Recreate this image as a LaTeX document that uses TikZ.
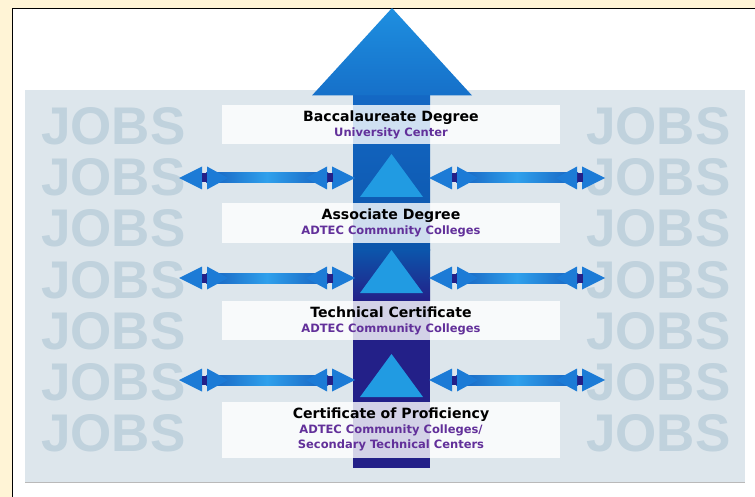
\documentclass[tikz,border=0pt]{standalone}
\usepackage{fontspec}
\usepackage{tikz}
\usetikzlibrary{positioning}
\usetikzlibrary{calc}
\newfontfamily\djv{DejaVu Sans}
\newfontfamily\lib{Liberation Sans}
\newcommand{\titlefont}{\djv\bfseries\fontsize{14.1}{15}\selectfont}
\newcommand{\subfont}{\djv\bfseries\fontsize{11.5}{14}\selectfont}
\newcommand{\jobsfont}{\lib\bfseries\fontsize{53}{53}\selectfont}
\definecolor{beige}{HTML}{FFF4D6}
\definecolor{panel}{HTML}{DDE6EC}
\definecolor{jobsgray}{HTML}{C0D2DD}
\definecolor{subpurple}{HTML}{62309A}
\definecolor{navy}{HTML}{232088}
\definecolor{shafttop}{HTML}{1468C4}
\definecolor{shaftmid}{HTML}{0C55AB}
\definecolor{headtop}{HTML}{1E8FE0}
\definecolor{headbot}{HTML}{1670C9}
\definecolor{tri}{HTML}{219BE2}
\definecolor{hblue}{HTML}{1C7BD6}
\definecolor{hdark}{HTML}{1660BE}
\definecolor{hlight}{HTML}{2FA0EC}
\tikzstyle{box} = [rectangle, fill=white, fill opacity=0.8, text opacity=1, minimum width=338pt, inner sep=0pt]
\tikzstyle{title} = [font=\titlefont, text=black, anchor=base, inner sep=0pt]
\tikzstyle{sub} = [font=\subfont, text=subpurple, anchor=base, inner sep=0pt]
\tikzstyle{jobs} = [font=\jobsfont, text=jobsgray, anchor=base west, inner sep=0pt]
% double headed job arrow between two named coordinates
\newcommand{\hjob}[2]{%
  \shade[left color=hdark, right color=hdark, middle color=hlight] ($(#1)+(27,-5)$) rectangle ($(#2)+(-27,5)$);
  \fill[hblue] (#1) -- ($(#1)+(23,-11.5)$) -- ($(#1)+(23,11.5)$) -- cycle;
  \fill[navy] ($(#1)+(22.5,-4.5)$) rectangle ($(#1)+(28.5,4.5)$);
  \fill[hblue] ($(#1)+(28,-11.5)$) -- ($(#1)+(49,0)$) -- ($(#1)+(28,11.5)$) -- cycle;
  \fill[hblue] (#2) -- ($(#2)+(-23,-11.5)$) -- ($(#2)+(-23,11.5)$) -- cycle;
  \fill[navy] ($(#2)+(-22.5,-4.5)$) rectangle ($(#2)+(-28.5,4.5)$);
  \fill[hblue] ($(#2)+(-28,-11.5)$) -- ($(#2)+(-49,0)$) -- ($(#2)+(-28,11.5)$) -- cycle;
}
\begin{document}
\begin{tikzpicture}[x=1pt, y=-1pt]
    \clip (0,0) rectangle (755,497);
    \fill[beige] (0,0) rectangle (755,497);
    \draw[fill=white, line width=0.8pt] (12,8) rectangle (770,510);
    \fill[panel] (25,90) rectangle (745,482);
    \draw[gray!55] (25,482) -- (745,482);

    % background words
    \foreach \k in {0,...,6} {
        \node[jobs] (jl\k) at (41,145+51*\k) {JOBS};
        \node[jobs] (jr\k) at (586,145+51*\k) {JOBS};
    }

    % the big upward arrow
    \shade[top color=shafttop, bottom color=shaftmid] (353,95) rectangle (430,250.5);
    \shade[top color=shaftmid, bottom color=navy] (353,250) rectangle (430,300.5);
    \fill[navy] (353,300) rectangle (430,468);
    \shade[top color=headtop, bottom color=headbot] (312,95.5) -- (392,8) -- (472,95.5) -- cycle;
    \foreach \ty in {197,293,397}
        \fill[tri] (360,\ty) -- (391.5,\ty-43) -- (423,\ty) -- cycle;

    % degree boxes
    \node[box, minimum height=39pt] (bac) at (391,124.5) {};
    \node[title] (bacT) at ([yshift=-16.7pt]bac.north) {Baccalaureate Degree};
    \node[sub] (bacS) at ([yshift=-15pt]bacT.base) {University Center};

    \node[box, minimum height=40pt] (assoc) at (391,223) {};
    \node[title] (assocT) at ([yshift=-17pt]assoc.north) {Associate Degree};
    \node[sub] (assocS) at ([yshift=-14.5pt]assocT.base) {ADTEC Community Colleges};

    \node[box, minimum height=39pt] (tech) at (391,320.5) {};
    \node[title] (techT) at ([yshift=-17pt]tech.north) {Technical Certificate};
    \node[sub] (techS) at ([yshift=-14.5pt]techT.base) {ADTEC Community Colleges};

    \node[box, minimum height=56pt] (cert) at (391,430) {};
    \node[title] (certT) at ([yshift=-17pt]cert.north) {Certificate of Proficiency};
    \node[sub] (certS) at ([yshift=-15pt]certT.base) {ADTEC Community Colleges/};
    \node[sub] (certS2) at ([yshift=-15pt]certS.base) {Secondary Technical Centers};

    % side arrows
    \foreach \y [count=\i] in {178,278,380} {
        \coordinate (la\i) at (179,\y);
        \coordinate (lb\i) at (355,\y);
        \coordinate (ra\i) at (429,\y);
        \coordinate (rb\i) at (605,\y);
        \hjob{la\i}{lb\i}
        \hjob{ra\i}{rb\i}
    }
\end{tikzpicture}
\end{document}
